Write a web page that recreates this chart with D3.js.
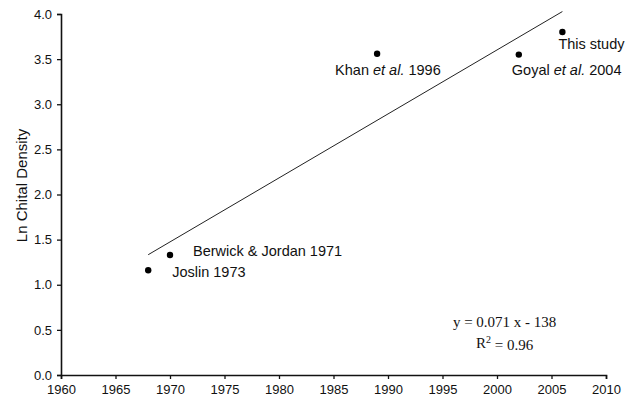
<!DOCTYPE html>
<html>
<head>
<meta charset="utf-8">
<script src="https://cdn.jsdelivr.net/npm/d3@7"></script>
<style>
  body { margin: 0; background: #fff; }
  svg text { font-family: "Liberation Sans", Arial, sans-serif; fill: #111; }
</style>
</head>
<body>
<div id="chart"></div>
<script>
// Data
const studies = ["Joslin 1973", "Berwick & Jordan 1971", "Khan et al. 1996", "Goyal et al. 2004", "This study"];
const years = [1968, 1970, 1989, 2002, 2006];
const lnDensity = [1.16, 1.33, 3.56, 3.55, 3.80];
const xTicks = [1960, 1965, 1970, 1975, 1980, 1985, 1990, 1995, 2000, 2005, 2010];
const yTicks = [0, 0.5, 1, 1.5, 2, 2.5, 3, 3.5, 4];
const equationText = "y = 0.071 x - 138";
const r2Text = "0.96";

// label placement relative to each point (pixels)
const labelOffsets = [[24, 7], [23, 1], [-42, 21], [-7, 20], [-4, 17]];

const width = 633, height = 402;
const margins = {top: 14, right: 27, bottom: 27, left: 61};

const svg = d3.select("#chart")
  .append("svg")
  .attr("width", width)
  .attr("height", height);

const xScale = d3.scaleLinear()
  .domain([1960, 2010])
  .range([margins.left, width - margins.right]);

const yScale = d3.scaleLinear()
  .domain([0, 4])
  .range([height - margins.bottom, margins.top]);

const data = studies.map((s, i) => ({study: s, year: years[i], value: lnDensity[i], off: labelOffsets[i]}));

// axes
const xGroup = svg.append("g")
    .attr("transform", `translate(0,${height - margins.bottom})`)
  .call(d3.axisBottom(xScale).tickValues(xTicks).tickFormat(d3.format("d")).tickSizeOuter(0).tickSize(4).tickPadding(4));

const yGroup = svg.append("g")
    .attr("transform", `translate(${margins.left},0)`)
  .call(d3.axisLeft(yScale).tickValues(yTicks).tickFormat(d3.format(".1f")).tickSizeOuter(0).tickSize(4).tickPadding(5));

[xGroup, yGroup].forEach(g => {
  g.select(".domain").attr("stroke", "#111").attr("stroke-width", 1.6);
  g.selectAll(".tick line").attr("stroke", "#111").attr("stroke-width", 1.3);
  g.selectAll("text")
    .style("font-family", "Liberation Sans, Arial, sans-serif")
    .style("font-size", "13px")
    .attr("fill", "#111");
});
xGroup.selectAll("text").attr("dy", "0.85em");

svg.append("text")
  .attr("transform", `translate(27,${yScale(2.1)}) rotate(-90)`)
  .attr("text-anchor", "middle")
  .style("font-size", "15px")
  .text("Ln Chital Density");

// least squares line through the points
const mx = d3.mean(years), my = d3.mean(lnDensity);
const sxy = d3.sum(years, (x, i) => (x - mx) * (lnDensity[i] - my));
const sxx = d3.sum(years, x => (x - mx) ** 2);
const slope = sxy / sxx, intercept = my - slope * mx;
const x0 = d3.min(years), x1 = d3.max(years);

svg.append("line")
  .attr("x1", xScale(x0))
  .attr("y1", yScale(slope * x0 + intercept))
  .attr("x2", xScale(x1))
  .attr("y2", yScale(slope * x1 + intercept))
  .attr("stroke", "#222")
  .attr("stroke-width", 1);

// points
svg.append("g")
  .selectAll("circle")
  .data(data)
  .join("circle")
    .attr("cx", d => xScale(d.year))
    .attr("cy", d => yScale(d.value))
    .attr("r", 3.2)
    .attr("fill", "#000");

// labels, with "et al." in italics
const labels = svg.append("g")
  .selectAll("text")
  .data(data)
  .join("text")
    .attr("x", d => xScale(d.year) + d.off[0])
    .attr("y", d => yScale(d.value) + d.off[1])
    .style("font-size", "14.5px");

labels.each(function(d) {
  const t = d3.select(this);
  const parts = d.study.split("et al.");
  if (parts.length === 2) {
    t.append("tspan").text(parts[0]);
    t.append("tspan").style("font-style", "italic").text("et al.");
    t.append("tspan").text(parts[1]);
  } else {
    t.text(d.study);
  }
});

// equation
const serif = "Liberation Serif, Times New Roman, serif";
svg.append("text")
  .attr("x", xScale(2000.7))
  .attr("y", yScale(0.53))
  .attr("text-anchor", "middle")
  .style("font-family", serif)
  .style("font-size", "15px")
  .text(equationText);
const r2 = svg.append("text")
  .attr("x", xScale(2000.7))
  .attr("y", yScale(0.3))
  .attr("text-anchor", "middle")
  .style("font-family", serif)
  .style("font-size", "15px");
r2.append("tspan").text("R");
r2.append("tspan").attr("dy", "-0.5em").style("font-size", "10px").text("2");
r2.append("tspan").attr("dy", "0.5em").text(" = " + r2Text);
</script>
</body>
</html>
